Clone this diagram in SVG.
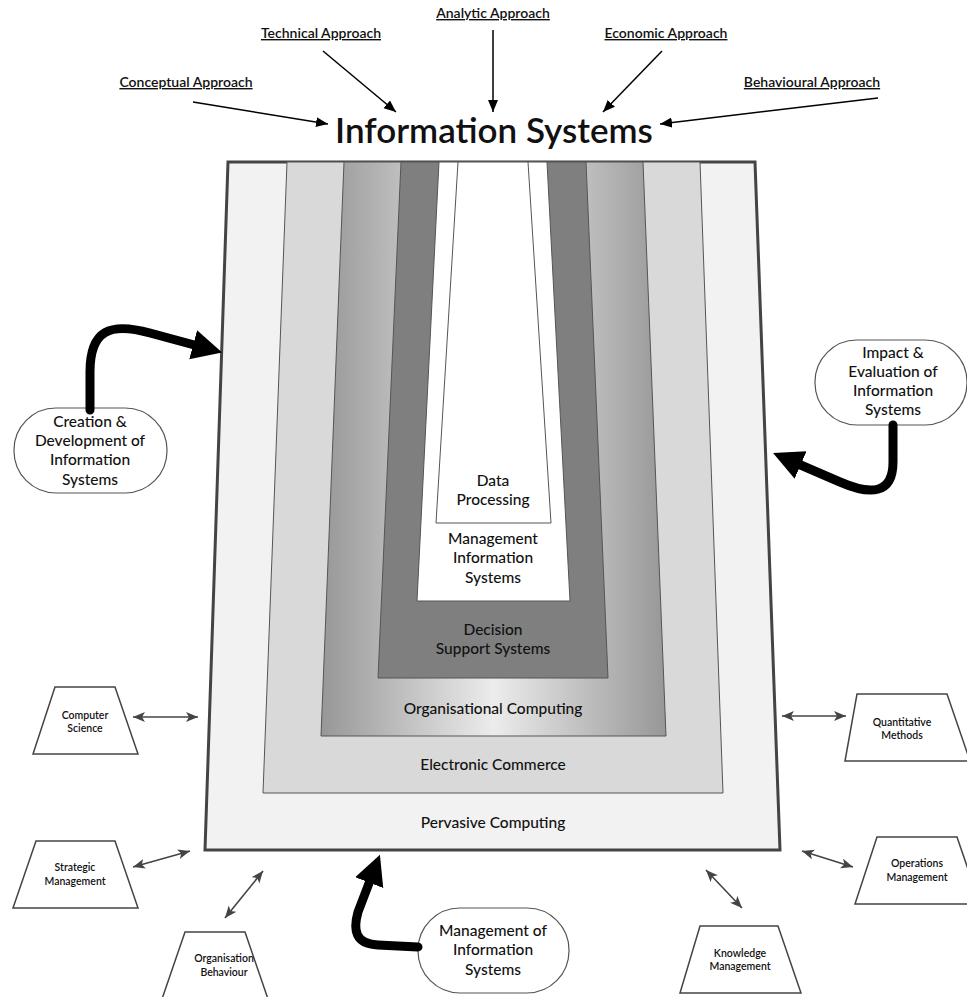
<svg xmlns="http://www.w3.org/2000/svg" width="967" height="997" viewBox="0 0 967 997">
<style>
text{font-family:Lato,"Open Sans","DejaVu Sans",sans-serif;fill:#111;text-anchor:middle;font-weight:500}
.ap{font-size:14px;text-decoration:underline;font-weight:600}
.lay{font-size:15.5px}
.nd{font-size:15.5px}
.sm{font-size:10.5px;font-weight:600}
.stad{fill:#fff;stroke:#555;stroke-width:1.2}
.trap{fill:#fff;stroke:#444;stroke-width:1.5}
.thin{stroke:#000;stroke-width:1.5;fill:none;marker-end:url(#ah)}
.dbl{stroke:#444;stroke-width:1.6;fill:none;marker-start:url(#dh);marker-end:url(#dh)}
.thick{stroke:#000;stroke-width:9;fill:none;stroke-linecap:round;stroke-linejoin:round;marker-end:url(#bh)}
.ln{stroke:#555;stroke-width:1}
</style>
<defs>
<marker id="ah" markerUnits="userSpaceOnUse" markerWidth="13" markerHeight="11" refX="12" refY="5" orient="auto"><path d="M0,0 L12,5 L0,10 z" fill="#000"/></marker>
<marker id="dh" markerUnits="userSpaceOnUse" markerWidth="13" markerHeight="11" refX="12" refY="5" orient="auto-start-reverse"><path d="M0,0 L12,5 L0,10 L3,5 z" fill="#444"/></marker>
<marker id="bh" markerUnits="userSpaceOnUse" markerWidth="32" markerHeight="32" refX="5" refY="15" orient="auto"><path d="M0,0 L30,15 L0,30 z" fill="#000"/></marker>
<linearGradient id="g3" x1="0" y1="0" x2="1" y2="0">
<stop offset="0" stop-color="#979797"/><stop offset="0.5" stop-color="#ececec"/><stop offset="1" stop-color="#979797"/>
</linearGradient>
</defs>

<g id="title"><text x="494" y="143" style="font-size:35px;font-weight:600">Information Systems</text></g>

<g id="approaches">
<g id="conceptual"><text class="ap" x="186" y="87">Conceptual Approach</text></g>
<g id="technical"><text class="ap" x="321" y="38">Technical Approach</text></g>
<g id="analytic"><text class="ap" x="493" y="18">Analytic Approach</text></g>
<g id="economic"><text class="ap" x="666" y="38">Economic Approach</text></g>
<g id="behavioural"><text class="ap" x="812" y="87">Behavioural Approach</text></g>
</g>

<g id="layers">
<g id="pervasive"><path d="M228,162 L755,162 L780,850 L205,850 z" fill="#f2f2f2" stroke="#444" stroke-width="3"/><text class="lay" x="493" y="828">Pervasive Computing</text></g>
<g id="ecommerce"><path d="M287,162 L700,162 L723,793 L263,793 z" fill="#d9d9d9" class="ln"/><text class="lay" x="493" y="770">Electronic Commerce</text></g>
<g id="orgcomputing"><path d="M344,162 L643,162 L666,736 L321,736 z" fill="url(#g3)" class="ln"/><text class="lay" x="493" y="714">Organisational Computing</text></g>
<g id="dss"><path d="M401,162 L586,162 L608,678 L378,678 z" fill="#7f7f7f" class="ln"/><text class="lay" x="493" y="635">Decision</text><text class="lay" x="493" y="654">Support Systems</text></g>
<g id="mis"><path d="M439,162 L547,162 L570,601 L417,601 z" fill="#fff" class="ln"/><text class="lay" x="493" y="544">Management</text><text class="lay" x="493" y="563">Information</text><text class="lay" x="493" y="583">Systems</text></g>
<g id="dataproc"><path d="M458,162 L528,162 L551,523 L436,523 z" fill="#fff" class="ln"/><text class="lay" x="493" y="486">Data</text><text class="lay" x="493" y="505">Processing</text></g>
</g>

<g id="creation"><rect class="stad" x="14" y="408" width="153" height="85" rx="42" ry="42"/><text class="nd" x="90" y="427">Creation &amp;</text><text class="nd" x="90" y="446">Development of</text><text class="nd" x="90" y="465">Information</text><text class="nd" x="90" y="485">Systems</text></g>
<g id="impact"><rect class="stad" x="815" y="340" width="152" height="85" rx="42" ry="42"/><text class="nd" x="893" y="358">Impact &amp;</text><text class="nd" x="893" y="377">Evaluation of</text><text class="nd" x="893" y="396">Information</text><text class="nd" x="893" y="415">Systems</text></g>
<g id="management"><rect class="stad" x="418" y="908" width="151" height="85" rx="42" ry="42"/><text class="nd" x="493" y="936">Management of</text><text class="nd" x="493" y="955">Information</text><text class="nd" x="493" y="975">Systems</text></g>

<g id="compsci"><path class="trap" d="M55,687 L115,687 L138,754 L33,754 z"/><text class="sm" x="85" y="719">Computer</text><text class="sm" x="85" y="732">Science</text></g>
<g id="strategic"><path class="trap" d="M36,841 L115,841 L138,908 L13,908 z"/><text class="sm" x="75" y="871">Strategic</text><text class="sm" x="75" y="885">Management</text></g>
<g id="orgbehaviour"><path class="trap" d="M185,932 L245,932 L268,999 L162,999 z"/><text class="sm" x="224" y="962">Organisation</text><text class="sm" x="224" y="976">Behaviour</text></g>
<g id="quant"><path class="trap" d="M857,694 L947,694 L970,761 L845,761 z"/><text class="sm" x="902" y="726">Quantitative</text><text class="sm" x="902" y="739">Methods</text></g>
<g id="operations"><path class="trap" d="M877,837 L957,837 L980,904 L855,904 z"/><text class="sm" x="917" y="867">Operations</text><text class="sm" x="917" y="881">Management</text></g>
<g id="knowledge"><path class="trap" d="M700,926 L778,926 L801,993 L680,993 z"/><text class="sm" x="740" y="957">Knowledge</text><text class="sm" x="740" y="970">Management</text></g>

<g id="connectors">
<line class="thin" x1="193" y1="102" x2="328" y2="124"/>
<line class="thin" x1="323" y1="51" x2="396" y2="112"/>
<line class="thin" x1="493" y1="30" x2="493" y2="112"/>
<line class="thin" x1="662" y1="51" x2="603" y2="112"/>
<line class="thin" x1="878" y1="98" x2="660" y2="124"/>
<path class="thick" d="M90,410 L90,372 C90,330 110,322 150,333 L198,346"/>
<path class="thick" d="M893,425 L893,462 C893,495 870,495 840,482 L796,463"/>
<path class="thick" d="M418,947 L378,945 C355,944 353,930 358,912 L371,878"/>
<line class="dbl" x1="133" y1="717" x2="198" y2="717"/>
<line class="dbl" x1="782" y1="716" x2="846" y2="716"/>
<line class="dbl" x1="133" y1="867" x2="190" y2="851"/>
<line class="dbl" x1="802" y1="851" x2="853" y2="867"/>
<line class="dbl" x1="225" y1="918" x2="263" y2="871"/>
<line class="dbl" x1="706" y1="870" x2="742" y2="908"/>
</g>
</svg>
